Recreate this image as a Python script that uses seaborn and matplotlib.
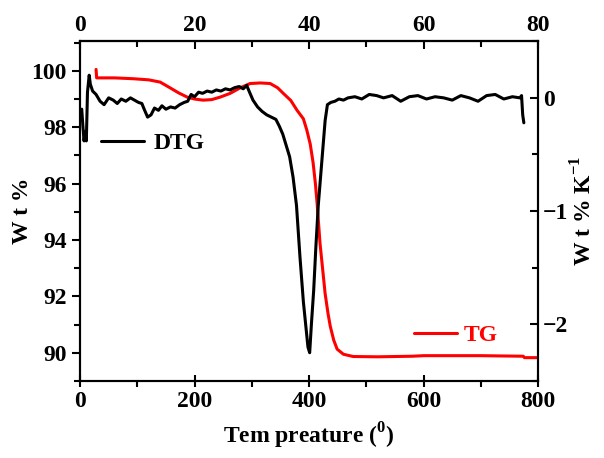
import matplotlib
matplotlib.use("Agg")
import matplotlib.pyplot as plt
import numpy as np
import pandas as pd
import seaborn as sns

# TG curve (weight %)
tg_temp = [28, 29, 60, 93, 120, 140, 157, 172, 187, 200, 215, 230, 245, 262, 280,
           297, 315, 332, 345, 355, 368, 379, 390, 396, 402, 407, 411, 414, 419,
           424, 428, 433, 437, 443, 449, 460, 477, 520, 580, 600, 700, 774, 776, 800]
tg_wt = [100.05, 99.75, 99.75, 99.72, 99.68, 99.6, 99.4, 99.22, 99.07, 99.0, 98.96,
         98.98, 99.07, 99.2, 99.4, 99.55, 99.57, 99.55, 99.4, 99.2, 98.95, 98.6, 98.3,
         97.9, 97.4, 96.74, 96.0, 95.3, 93.9, 92.9, 92.1, 91.4, 90.94, 90.45, 90.13,
         89.95, 89.87, 89.86, 89.88, 89.9, 89.9, 89.88, 89.83, 89.83]

# DTG curve (wt % / K)
dtg_temp = [3, 5, 7, 9, 11, 13, 16, 18, 22, 28, 35, 42, 50, 58, 65, 72, 80, 88, 95,
            102, 108, 112, 118, 124, 130, 137, 143, 150, 158, 166, 174, 182, 188, 194,
            200, 207, 214, 222, 230, 238, 246, 254, 262, 270, 278, 285, 291, 296, 302,
            310, 318, 326, 334, 342, 348, 354, 360, 366, 372, 378, 384, 390, 395, 398,
            401, 404, 408, 412, 416, 420, 424, 428, 432, 438, 445, 452, 460, 468, 480,
            492, 505, 518, 530, 545, 560, 575, 590, 605, 620, 635, 650, 665, 680, 695,
            710, 725, 740, 755, 768, 771, 773, 775]
dtg_val = [-0.10, -0.25, -0.38, -0.30, -0.38, 0.05, 0.20, 0.12, 0.06, 0.03, -0.03,
           -0.06, 0.0, -0.02, -0.05, -0.01, -0.03, 0.0, -0.02, -0.04, -0.05, -0.10,
           -0.17, -0.15, -0.09, -0.11, -0.07, -0.10, -0.08, -0.09, -0.06, -0.04, -0.03,
           0.03, 0.01, 0.05, 0.04, 0.06, 0.05, 0.07, 0.06, 0.08, 0.07, 0.09, 0.10, 0.08,
           0.11, 0.05, -0.02, -0.08, -0.12, -0.15, -0.17, -0.19, -0.25, -0.32, -0.42,
           -0.52, -0.70, -0.95, -1.40, -1.80, -2.05, -2.20, -2.25, -2.00, -1.70, -1.30,
           -0.95, -0.70, -0.45, -0.20, -0.06, -0.04, -0.03, -0.01, -0.02, 0.0, 0.01,
           -0.01, 0.03, 0.02, 0.0, 0.02, -0.03, 0.01, 0.02, -0.01, 0.01, 0.0, -0.02,
           0.02, 0.0, -0.03, 0.02, 0.03, -0.01, 0.01, 0.0, 0.02, -0.15, -0.22]

sns.set_style("ticks")
plt.rcParams["font.family"] = ["Liberation Serif", "DejaVu Serif"]
plt.rcParams["font.weight"] = "bold"
plt.rcParams["mathtext.fontset"] = "custom"
plt.rcParams["mathtext.rm"] = "Liberation Serif:bold"
plt.rcParams["mathtext.bf"] = "Liberation Serif:bold"
for key in ["text.color", "axes.labelcolor", "xtick.color", "ytick.color", "axes.edgecolor"]:
    plt.rcParams[key] = "black"

fs = 17
fig = plt.figure(figsize=(6.04, 4.58), dpi=100)
ax = fig.add_axes([0.1325, 0.168, 0.7585, 0.742])
ax2 = ax.twinx()

tg = pd.DataFrame({"T": tg_temp, "wt": tg_wt})
dtg = pd.DataFrame({"T": dtg_temp, "v": dtg_val})
sns.lineplot(data=tg, x="T", y="wt", ax=ax, color="red", lw=2.2, sort=False)
sns.lineplot(data=dtg, x="T", y="v", ax=ax2, color="black", lw=2.2, sort=False)

ax.set_xlim(0, 800)
ax.set_ylim(89.1, 101.05)
ax2.set_ylim(-2.5, 0.5)
ax.set_xticks([0, 200, 400, 600, 800])
ax.set_xticks(range(100, 800, 200), minor=True)
ax.set_yticks([90, 92, 94, 96, 98, 100])
ax.set_yticks([89, 91, 93, 95, 97, 99, 101], minor=True)
ax2.set_yticks([0, -1, -2])
ax2.set_yticks([0.5, -0.5, -1.5, -2.5], minor=True)

ax.set_xlabel("Tem preature ($^0$)", fontsize=fs, fontweight="bold", labelpad=6)
ax.set_ylabel("W t %", fontsize=fs, fontweight="bold", labelpad=-1)
ax2.set_ylabel("W t % K$^{-1}$", fontsize=fs, fontweight="bold", labelpad=2)

ax.tick_params(axis="y", which="major", direction="out", length=6, width=1.5, labelsize=fs)
ax.tick_params(axis="y", which="minor", direction="out", length=4, width=1.5)
ax.tick_params(axis="x", which="major", direction="inout", length=8, width=1.5, labelsize=fs)
ax.tick_params(axis="x", which="minor", direction="out", length=4, width=1.5)
ax2.tick_params(axis="y", which="major", direction="in", length=6, width=1.5, labelsize=fs)
ax2.tick_params(axis="y", which="minor", direction="in", length=4, width=1.5)

top = ax.secondary_xaxis("top", functions=(lambda x: x / 10, lambda x: x * 10))
top.set_xticks([0, 20, 40, 60, 80])
top.set_xticks([10, 30, 50, 70], minor=True)
top.tick_params(which="major", direction="in", length=6, width=1.5, labelsize=fs)
top.tick_params(which="minor", direction="in", length=4, width=1.5)

for a in (ax, ax2):
    for s in a.spines.values():
        s.set_linewidth(1.5)
for s in top.spines.values():
    s.set_linewidth(1.5)

# legend entries placed as in the figure
leg1 = ax.legend([ax2.lines[0]], ["DTG"], loc="center left", bbox_to_anchor=(0.0, 0.70),
                 frameon=False, handlelength=1.8, handletextpad=0.4,
                 prop={"size": fs, "weight": "bold"})
ax.add_artist(leg1)
ax.legend([ax.lines[0]], ["TG"], loc="center left", bbox_to_anchor=(0.683, 0.135),
          frameon=False, handlelength=1.8, handletextpad=0.3, labelcolor="red",
          prop={"size": fs, "weight": "bold"})

fig.savefig("out.png", dpi=100)
